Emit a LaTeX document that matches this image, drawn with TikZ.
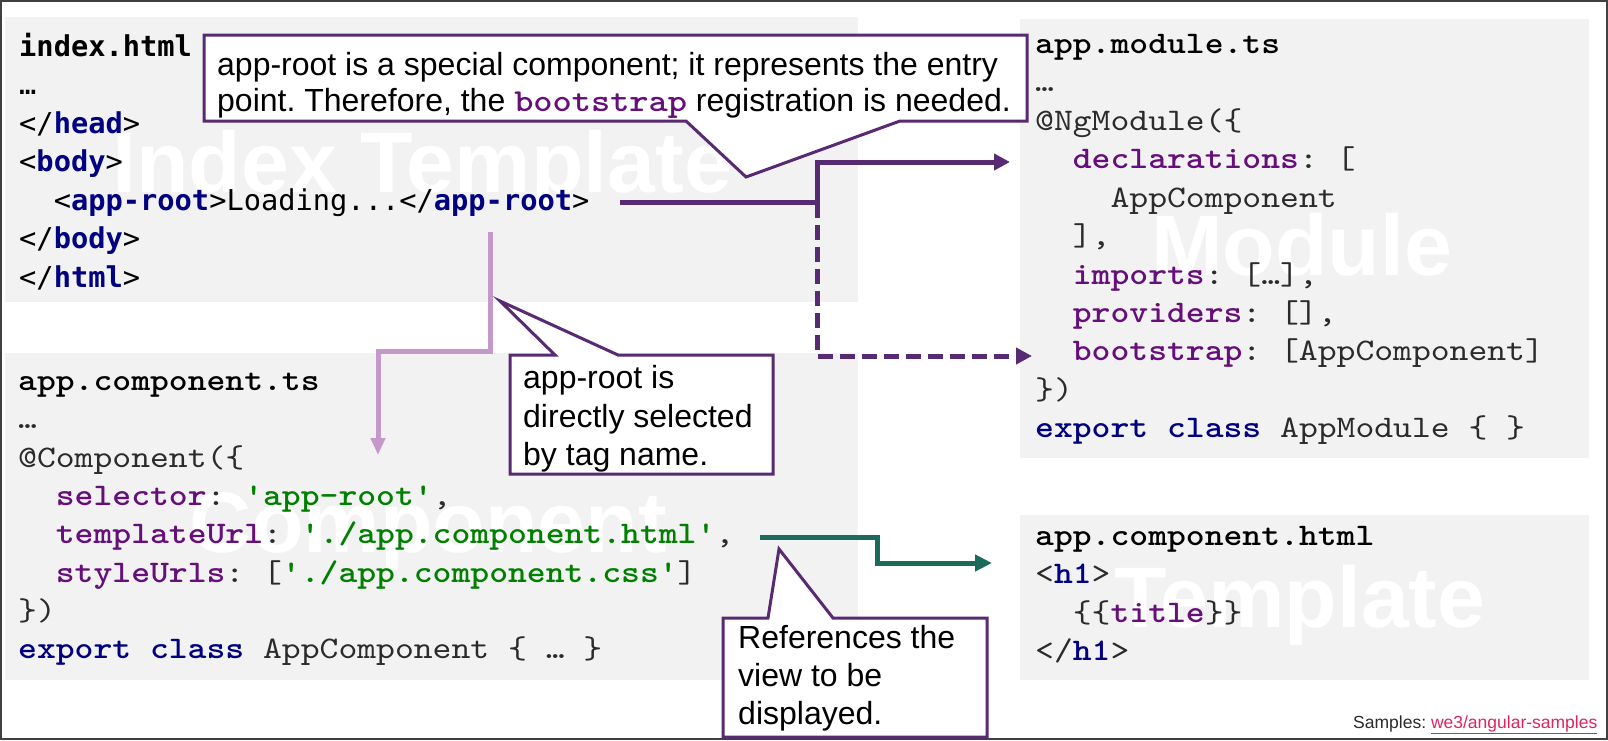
\documentclass[tikz,border=0pt]{standalone}
\usepackage{fontspec}
\setmainfont{Liberation Sans}
\setmonofont{lmmono10-regular.otf}[BoldFont=lmmonolt10-bold.otf, FakeStretch=1.143]
\newfontfamily\idxfont{DejaVu Sans Mono}
\usetikzlibrary{arrows.meta}
\definecolor{boxgray}{HTML}{F2F2F2}
\definecolor{purp}{HTML}{572A71}
\definecolor{lilac}{HTML}{C498C8}
\definecolor{tealarr}{HTML}{1B6B5A}
\definecolor{kwp}{HTML}{660E7A}
\definecolor{navyc}{HTML}{000080}
\definecolor{strg}{HTML}{008000}
\definecolor{codegray}{HTML}{2B2B2B}
\definecolor{linkc}{HTML}{E0245E}
\definecolor{framec}{HTML}{404040}
\newcommand\kp[1]{{\bfseries\color{kwp}#1}}
\newcommand\nv[1]{{\bfseries\color{navyc}#1}}
\newcommand\sg[1]{{\bfseries\color{strg}#1}}
\newcommand\tg[1]{{\bfseries\color{navyc}#1}}
\frenchspacing
\tikzset{
  code/.style={anchor=base west, inner sep=0pt, font=\ttfamily\fontsize{31.4}{38}\selectfont, text=codegray},
  idx/.style={anchor=base west, inner sep=0pt, font=\idxfont\fontsize{28.7}{38}\selectfont, text=black},
  wm/.style={anchor=base west, inner sep=0pt, font=\bfseries\fontsize{86}{90}\selectfont, text=white},
  note/.style={anchor=base west, inner sep=0pt, font=\fontsize{32}{37}\selectfont, text=black},
  codebox/.style={fill=boxgray, draw=none, inner sep=0pt, anchor=north west},
  callout/.style={draw=purp, line width=3pt, fill=white, line join=miter},
  purparrow/.style={draw=purp, line width=5pt, -{Triangle[length=16pt,width=16pt]}},
  lilacarrow/.style={draw=lilac, line width=5pt, -{Triangle[length=17pt,width=14pt]}},
  tealarrow/.style={draw=tealarr, line width=5pt, -{Triangle[length=17pt,width=16pt]}},
}
\begin{document}
\begin{tikzpicture}[x=1pt,y=-1pt]
\useasboundingbox (0,0) rectangle (1608,740);
\fill[white] (0,0) rectangle (1608,740);
\draw[framec, line width=2pt] (1,1) rectangle (1607,739);

% boxes
\node[codebox, minimum width=853pt, minimum height=285pt] (idxbox) at (5,17) {};
\node[codebox, minimum width=569pt, minimum height=439pt] (modbox) at (1020,19) {};
\node[codebox, minimum width=853pt, minimum height=327pt] (cmpbox) at (5,353) {};
\node[codebox, minimum width=569pt, minimum height=165pt] (tplbox) at (1020,515) {};

% watermarks
\node[wm] (wm1) at (112,192) {Index Template};
\node[wm] (wm2) at (1151,275) {Module};
\node[wm] (wm3) at (189,552) {Component};
\node[wm] (wm4) at (1114,627) {Template};

% index.html
\node[idx] (i0) at (19,56) {\bfseries index.html};
\node[idx] (i1) at (19,94) {…};
\node[idx] (i2) at (19,133) {</\tg{head}>};
\node[idx] (i3) at (19,171) {<\tg{body}>};
\node[idx] (i4) at (19,210) {\phantom{xx}<\tg{app-root}>Loading...</\tg{app-root}>};
\node[idx] (i5) at (19,248) {</\tg{body}>};
\node[idx] (i6) at (19,287) {</\tg{html}>};

% app.module.ts
\node[code, text=black] (m0) at (1035,53) {\bfseries app.module.ts};
\node[code] (m1) at (1035,91.5) {…};
\node[code] (m2) at (1035,130) {@NgModule(\{};
\node[code] (m3) at (1035,168) {\phantom{xx}\kp{declarations}: [};
\node[code] (m4) at (1035,207) {\phantom{xxxx}AppComponent};
\node[code] (m5) at (1035,245) {\phantom{xx}],};
\node[code] (m6) at (1035,284) {\phantom{xx}\kp{imports}: […],};
\node[code] (m7) at (1035,322) {\phantom{xx}\kp{providers}: [],};
\node[code] (m8) at (1035,360) {\phantom{xx}\kp{bootstrap}: [AppComponent]};
\node[code] (m9) at (1035,399) {\})};
\node[code] (m10) at (1035,437) {\nv{export class} AppModule \{ \}};

% app.component.ts
\node[code, text=black] (c0) at (18,390) {\bfseries app.component.ts};
\node[code] (c1) at (18,428) {…};
\node[code] (c2) at (18,467) {@Component(\{};
\node[code] (c3) at (18,505) {\phantom{xx}\kp{selector}: \sg{'app-root'},};
\node[code] (c4) at (18,543) {\phantom{xx}\kp{templateUrl}: \sg{'./app.component.html'},};
\node[code] (c5) at (18,582) {\phantom{xx}\kp{styleUrls}: [\sg{'./app.component.css'}]};
\node[code] (c6) at (18,620) {\})};
\node[code] (c7) at (18,658) {\nv{export class} AppComponent \{ … \}};

% app.component.html
\node[code, text=black] (t0) at (1035,545) {\bfseries app.component.html};
\node[code] (t1) at (1035,583) {<\nv{h1}>};
\node[code] (t2) at (1035,622) {\phantom{xx}\{\{\kp{title}\}\}};
\node[code] (t3) at (1035,660) {</\nv{h1}>};

% connectors
\coordinate (a0) at (620,202);
\coordinate (aj) at (817,202);
\coordinate (adecl) at (1010,162);
\coordinate (aboot) at (1032,356);
\draw[purparrow, dash pattern=on 15pt off 7pt] (a0) -- (aj) |- (aboot);
\draw[purparrow] (a0) -- (aj) |- (adecl);

\coordinate (l0) at (490,232);
\coordinate (l1) at (378,351);
\coordinate (l2) at (378,455);
\draw[lilacarrow] (l0) |- (l1) -- (l2);

\coordinate (tt0) at (760,537);
\coordinate (tt1) at (877,563);
\coordinate (tt2) at (992,563);
\draw[tealarrow] (tt0) -| (tt1) -- (tt2);

% callouts
\draw[callout] (204,35) -- (1027,35) -- (1027,121) -- (900,121) -- (746,177) -- (686,121) -- (204,121) -- cycle;
\node[note] (n1a) at (217,75) {app-root is a special component; it represents the entry};
\node[note] (n1b) at (217,111) {point. Therefore, the {\ttfamily\bfseries\color{kwp}bootstrap} registration is needed.};

\draw[callout] (510,355) -- (555,355) -- (500,301) -- (618,355) -- (773,355) -- (773,474) -- (510,474) -- cycle;
\node[note] (n2a) at (523,388) {app-root is};
\node[note] (n2b) at (523,427) {directly selected};
\node[note] (n2c) at (523,465) {by tag name.};

\draw[callout] (723,618) -- (768,618) -- (779,549) -- (833,618) -- (987,618) -- (987,737) -- (723,737) -- cycle;
\node[note] (n3a) at (738,648) {References the};
\node[note] (n3b) at (738,686) {view to be};
\node[note] (n3c) at (738,724) {displayed.};

% footer
\node[anchor=base west, inner sep=0pt, font=\fontsize{17.5}{20}\selectfont, text=codegray] (samples) at (1353,728) {Samples: {\color{linkc}\underline{we3/angular-samples}}};
\end{tikzpicture}
\end{document}
